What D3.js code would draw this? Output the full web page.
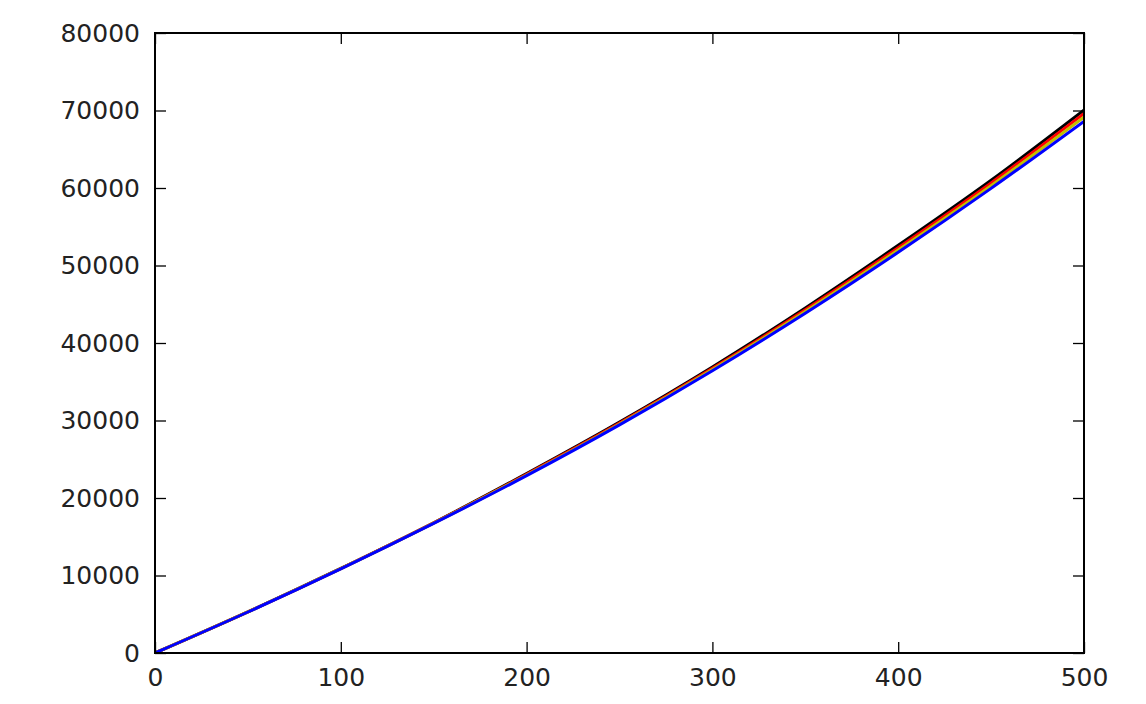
<!DOCTYPE html>
<html>
<head>
<meta charset="utf-8">
<script src="https://cdn.jsdelivr.net/npm/d3@7"></script>
<style>
  body { margin: 0; background: #fff; }
  text { font-family: "DejaVu Sans", sans-serif; fill: #222; }
</style>
</head>
<body>
<div id="chart"></div>
<script>
// Données
const xValues = [0, 50, 100, 150, 200, 250, 300, 350, 400, 450, 500];
const serieNoire = [0, 5310, 10910, 16810, 23150, 29790, 36900, 44530, 52600, 61000, 70050];
const serieRouge = [0, 5303, 10893, 16780, 23060, 29660, 36740, 44300, 52300, 60650, 69600];
const serieJaune = [0, 5297, 10877, 16750, 22970, 29550, 36580, 44070, 52000, 60300, 69140];
const serieBleue = [0, 5290, 10860, 16720, 22880, 29430, 36420, 43840, 51700, 59950, 68600];
const xTicks = [0, 100, 200, 300, 400, 500];
const yTicks = [0, 10000, 20000, 30000, 40000, 50000, 60000, 70000, 80000];

const series = [
  { values: serieNoire, color: "#000000" },
  { values: serieRouge, color: "#ff0000" },
  { values: serieJaune, color: "#bfbf00" },
  { values: serieBleue, color: "#0000ff" }
];

const W = 1146, H = 704;
const margin = { top: 33, right: 62, bottom: 51, left: 155 };
const width = W - margin.left - margin.right;
const height = H - margin.top - margin.bottom;

const svg = d3.select("#chart").append("svg")
  .attr("width", W)
  .attr("height", H);

const g = svg.append("g")
  .attr("transform", `translate(${margin.left},${margin.top})`);

const x = d3.scaleLinear().domain([0, 500]).range([0, width]);
const y = d3.scaleLinear().domain([0, 80000]).range([height, 0]);

// Courbes
const line = d3.line()
  .x((d, i) => x(xValues[i]))
  .y(d => y(d))
  .curve(d3.curveMonotoneX);

g.append("defs").append("clipPath").attr("id", "clip")
  .append("rect").attr("width", width).attr("height", height);

series.forEach(s => {
  g.append("path")
    .datum(s.values)
    .attr("clip-path", "url(#clip)")
    .attr("fill", "none")
    .attr("stroke", s.color)
    .attr("stroke-width", 3)
    .attr("d", line);
});

// Axes (ticks vers l'intérieur, des deux côtés)
const tickLen = 11;
function styleAxis(sel) {
  sel.select(".domain").remove();
  sel.selectAll(".tick line").attr("stroke", "#000").attr("stroke-width", 1.3);
  sel.selectAll(".tick text").style("font-size", "25px").attr("fill", "#1a1a1a");
}

g.append("g")
  .attr("transform", `translate(0,${height})`)
  .call(d3.axisBottom(x).tickValues(xTicks).tickSize(-tickLen).tickPadding(15).tickFormat(d3.format("d")))
  .call(styleAxis);

g.append("g")
  .call(d3.axisTop(x).tickValues(xTicks).tickSize(-tickLen).tickFormat(""))
  .call(styleAxis);

g.append("g")
  .call(d3.axisLeft(y).tickValues(yTicks).tickSize(-tickLen).tickPadding(15).tickFormat(d3.format("d")))
  .call(styleAxis);

g.append("g")
  .attr("transform", `translate(${width},0)`)
  .call(d3.axisRight(y).tickValues(yTicks).tickSize(-tickLen).tickFormat(""))
  .call(styleAxis);

// Cadre
g.append("rect")
  .attr("width", width)
  .attr("height", height)
  .attr("fill", "none")
  .attr("stroke", "#000")
  .attr("stroke-width", 2);
</script>
</body>
</html>
